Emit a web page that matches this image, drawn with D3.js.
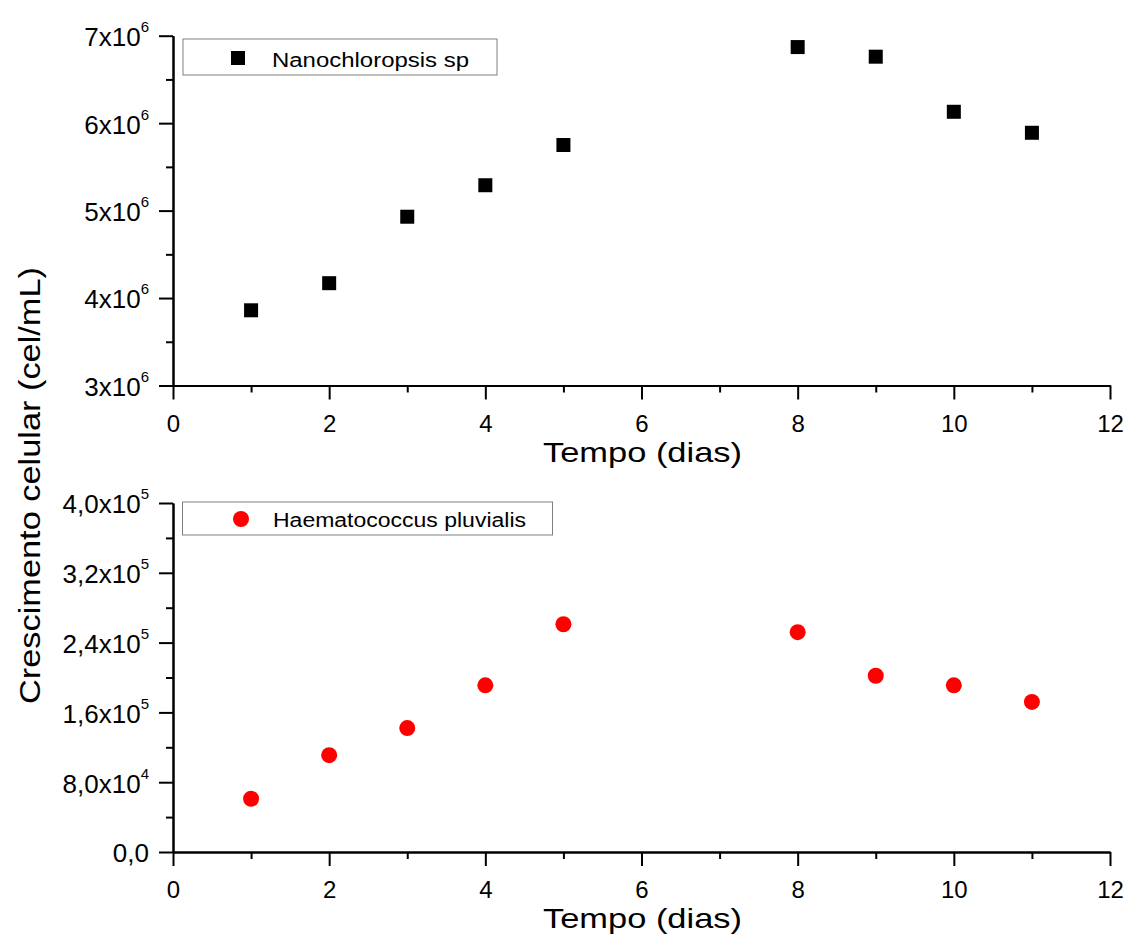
<!DOCTYPE html>
<html>
<head>
<meta charset="utf-8">
<script src="https://cdn.jsdelivr.net/npm/d3@7"></script>
<style>
  body { margin: 0; background: #fff; }
  svg text { font-family: "Liberation Sans", Arial, sans-serif; fill: #000; }
  .axis path, .axis line { stroke: #000; stroke-width: 2; }
</style>
</head>
<body>
<div id="chart"></div>
<script>
// ---- data ----
var days = [1, 2, 3, 4, 5, 8, 9, 10, 11];
var nanoValues  = [3.86e6, 4.17e6, 4.93e6, 5.29e6, 5.75e6, 6.87e6, 6.76e6, 6.13e6, 5.89e6];
var haemaValues = [6.1e4, 1.11e5, 1.42e5, 1.91e5, 2.61e5, 2.52e5, 2.02e5, 1.91e5, 1.72e5];

var xTicks = [0, 2, 4, 6, 8, 10, 12];
var xMinor = [1, 3, 5, 7, 9, 11];
var nanoTicks = [3e6, 4e6, 5e6, 6e6, 7e6];
var nanoTickLabels = ["3x10^6", "4x10^6", "5x10^6", "6x10^6", "7x10^6"];
var nanoMinor = [3.5e6, 4.5e6, 5.5e6, 6.5e6];
var haemaTicks = [0, 8e4, 1.6e5, 2.4e5, 3.2e5, 4e5];
var haemaTickLabels = ["0,0", "8,0x10^4", "1,6x10^5", "2,4x10^5", "3,2x10^5", "4,0x10^5"];
var haemaMinor = [4e4, 1.2e5, 2e5, 2.8e5, 3.6e5];

var W = 1129, H = 943;
var svg = d3.select("#chart").append("svg")
    .attr("width", W)
    .attr("height", H);

var x = d3.scaleLinear().domain([0, 12]).range([173, 1110]);

// writes "a^b" as text with a superscript
function supLabel(sel, labels, ticks) {
    sel.selectAll(".tick text").each(function(d) {
        var lab = labels[ticks.indexOf(d)];
        var t = d3.select(this).text(null).attr("dy", "0.38em");
        var parts = lab.split("^");
        t.append("tspan").text(parts[0]);
        if (parts[1]) {
            t.append("tspan").attr("dy", -14).style("font-size", "15px").text(parts[1]);
        }
    });
}

function panel(yDomain, yRange, ticks, labels, minor) {
    var y = d3.scaleLinear().domain(yDomain).range(yRange);
    var x0 = yRange[0];

    // x axis
    svg.append("g").attr("class", "axis")
        .attr("transform", "translate(0," + x0 + ")")
        .call(d3.axisBottom(x).tickValues(xMinor).tickSize(7).tickSizeOuter(0).tickFormat(""));
    svg.append("g").attr("class", "axis")
        .attr("transform", "translate(0," + x0 + ")")
        .call(d3.axisBottom(x).tickValues(xTicks).tickSize(14).tickSizeOuter(0).tickPadding(15))
        .selectAll("text").style("font-size", "24px");

    // y axis
    svg.append("g").attr("class", "axis")
        .attr("transform", "translate(173,0)")
        .call(d3.axisLeft(y).tickValues(minor).tickSize(7).tickSizeOuter(0).tickFormat(""));
    var ya = svg.append("g").attr("class", "axis")
        .attr("transform", "translate(173,0)")
        .call(d3.axisLeft(y).tickValues(ticks).tickSize(14).tickSizeOuter(0).tickPadding(10));
    ya.selectAll("text").style("font-size", "26px");
    supLabel(ya, labels, ticks);

    svg.append("text")
        .attr("x", 543)
        .attr("y", x0 + 76)
        .attr("textLength", 199)
        .attr("lengthAdjust", "spacingAndGlyphs")
        .style("font-size", "28px")
        .text("Tempo (dias)");
    return y;
}

// ---- top panel ----
var yTop = panel([3e6, 7e6], [385.5, 35.7], nanoTicks, nanoTickLabels, nanoMinor);
var sq = 14;
svg.append("g").selectAll("rect")
    .data(days)
    .enter().append("rect")
    .attr("x", function(d) { return x(d) - sq / 2; })
    .attr("y", function(d, i) { return yTop(nanoValues[i]) - sq / 2; })
    .attr("width", sq)
    .attr("height", sq)
    .style("fill", "#000");

// ---- bottom panel ----
var yBot = panel([0, 4e5], [852, 503], haemaTicks, haemaTickLabels, haemaMinor);
svg.append("g").selectAll("circle")
    .data(days)
    .enter().append("circle")
    .attr("cx", function(d) { return x(d); })
    .attr("cy", function(d, i) { return yBot(haemaValues[i]); })
    .attr("r", 8)
    .style("fill", "#ff0000");

// legends
var leg1 = svg.append("g");
leg1.append("rect").attr("x", 183).attr("y", 39).attr("width", 314).attr("height", 36)
    .style("fill", "#fff").style("stroke", "#808080").style("stroke-width", 1);
leg1.append("rect").attr("x", 238 - sq / 2).attr("y", 58 - sq / 2).attr("width", sq).attr("height", sq)
    .style("fill", "#000");
leg1.append("text").attr("x", 272).attr("y", 66.5)
    .attr("textLength", 197).attr("lengthAdjust", "spacingAndGlyphs")
    .style("font-size", "20px").text("Nanochloropsis sp");

var leg2 = svg.append("g");
leg2.append("rect").attr("x", 182.5).attr("y", 502).attr("width", 370).attr("height", 33)
    .style("fill", "#fff").style("stroke", "#808080").style("stroke-width", 1);
leg2.append("circle").attr("cx", 241).attr("cy", 519).attr("r", 8).style("fill", "#ff0000");
leg2.append("text").attr("x", 273).attr("y", 526.5)
    .attr("textLength", 253).attr("lengthAdjust", "spacingAndGlyphs")
    .style("font-size", "20px").text("Haematococcus pluvialis");

// shared y title
svg.append("text")
    .attr("transform", "translate(39.5,704) rotate(-90)")
    .attr("textLength", 437)
    .attr("lengthAdjust", "spacingAndGlyphs")
    .style("font-size", "29px")
    .text("Crescimento celular (cel/mL)");
</script>
</body>
</html>
